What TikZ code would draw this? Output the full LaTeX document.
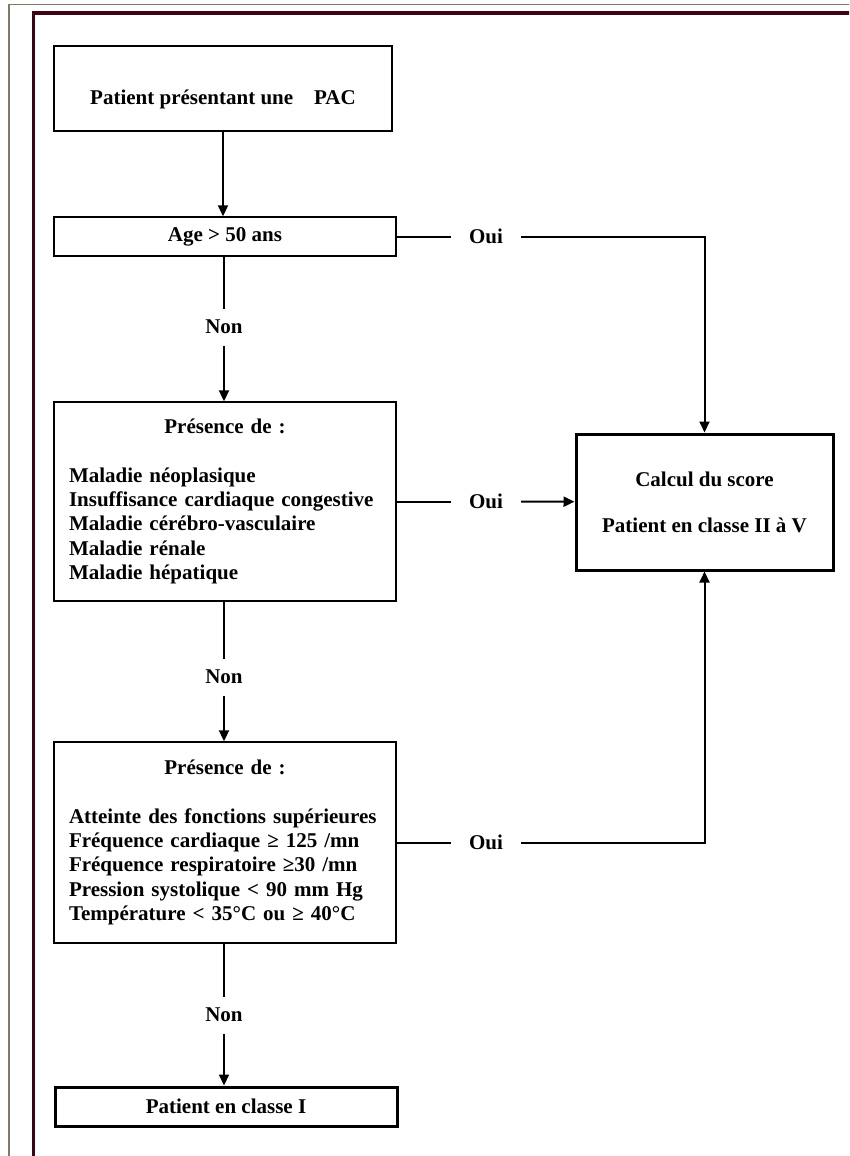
\documentclass[tikz,border=0pt]{standalone}
\usepackage{fontspec}
\setmainfont{Liberation Serif}
\usepackage{xcolor}
\usetikzlibrary{arrows.meta, positioning}
\definecolor{framegray}{RGB}{128,122,96}
\definecolor{framered}{RGB}{62,4,18}
\tikzset{
  box/.style={draw, line width=1.4pt, minimum width=342pt, inner sep=0pt},
  thickbox/.style={box, line width=3pt},
  answer/.style={minimum width=68pt, minimum height=35pt, inner sep=0pt},
}

\begin{document}
\begin{tikzpicture}[x=1pt, y=-1pt, line width=2pt,
    font=\fontsize{21}{24.4}\selectfont\bfseries,
    >={Triangle[width=10pt,length=11pt]}]
    % Page frame
    \useasboundingbox (0,0) rectangle (849,1156);
    \clip (0,0) rectangle (849,1156);
    \draw[framegray, line width=1.5pt] (9,4.5) rectangle (880,1190);
    \draw[framered, line width=3.5pt] (33.5,13) rectangle (870,1180);

    % Left column
    \node[box, minimum width=338pt, minimum height=85pt, text height=31pt, text depth=0pt] (pac) at (223,88.5) {Patient présentant une\quad PAC};
    \node[box, minimum height=39pt] (age) at (225,236.5) {Age > 50 ans};
    \node[box, minimum height=199pt, text width=312pt, align=left] (crit1) at (225,501.5) {%
      {\centering Présence de :\par}
      \vspace{\baselineskip}
      Maladie néoplasique\\
      Insuffisance cardiaque congestive\\
      Maladie cérébro-vasculaire\\
      Maladie rénale\\
      Maladie hépatique\par\vspace{14pt}};
    \node[box, minimum height=201pt, text width=312pt, align=left] (crit2) at (225,842.5) {%
      {\centering Présence de :\par}
      \vspace{\baselineskip}
      Atteinte des fonctions supérieures\\
      Fréquence cardiaque ≥ 125 /mn\\
      Fréquence respiratoire ≥30 /mn\\
      Pression systolique < 90 mm Hg\\
      Température < 35°C ou ≥ 40°C\par\vspace{7pt}};
    \node[thickbox, minimum height=39pt] (classI) at (226,1106.5) {Patient en classe I};

    % Right column
    \node[thickbox, minimum width=257pt, minimum height=136pt, align=center] (score) at (704.5,502) {Calcul du score\\[21.6pt]Patient en classe II à V};

    % Answers
    \node[answer] (non1) at (224,327) {Non};
    \node[answer] (non2) at (224,677) {Non};
    \node[answer] (non3) at (224,1015) {Non};
    \node[answer] (oui1) at (486,236.5) {Oui};
    \node[answer] (oui2) at (486,501.5) {Oui};
    \node[answer] (oui3) at (486,842.5) {Oui};

    % Connectors
    \draw[->] (pac.south) -- (pac.south |- age.north);
    \draw (non1 |- age.south) -- (non1);
    \draw[->] (non1) -- (non1 |- crit1.north);
    \draw (non2 |- crit1.south) -- (non2);
    \draw[->] (non2) -- (non2 |- crit2.north);
    \draw (non3 |- crit2.south) -- (non3);
    \draw[->] (non3) -- (non3 |- classI.north);

    \draw (age) -- (oui1);
    \draw[->] (oui1) -| (score);
    \draw (crit1) -- (oui2);
    \draw[->] (oui2) -- (score);
    \draw (crit2) -- (oui3);
    \draw[->] (oui3) -| (score);
\end{tikzpicture}
\end{document}
